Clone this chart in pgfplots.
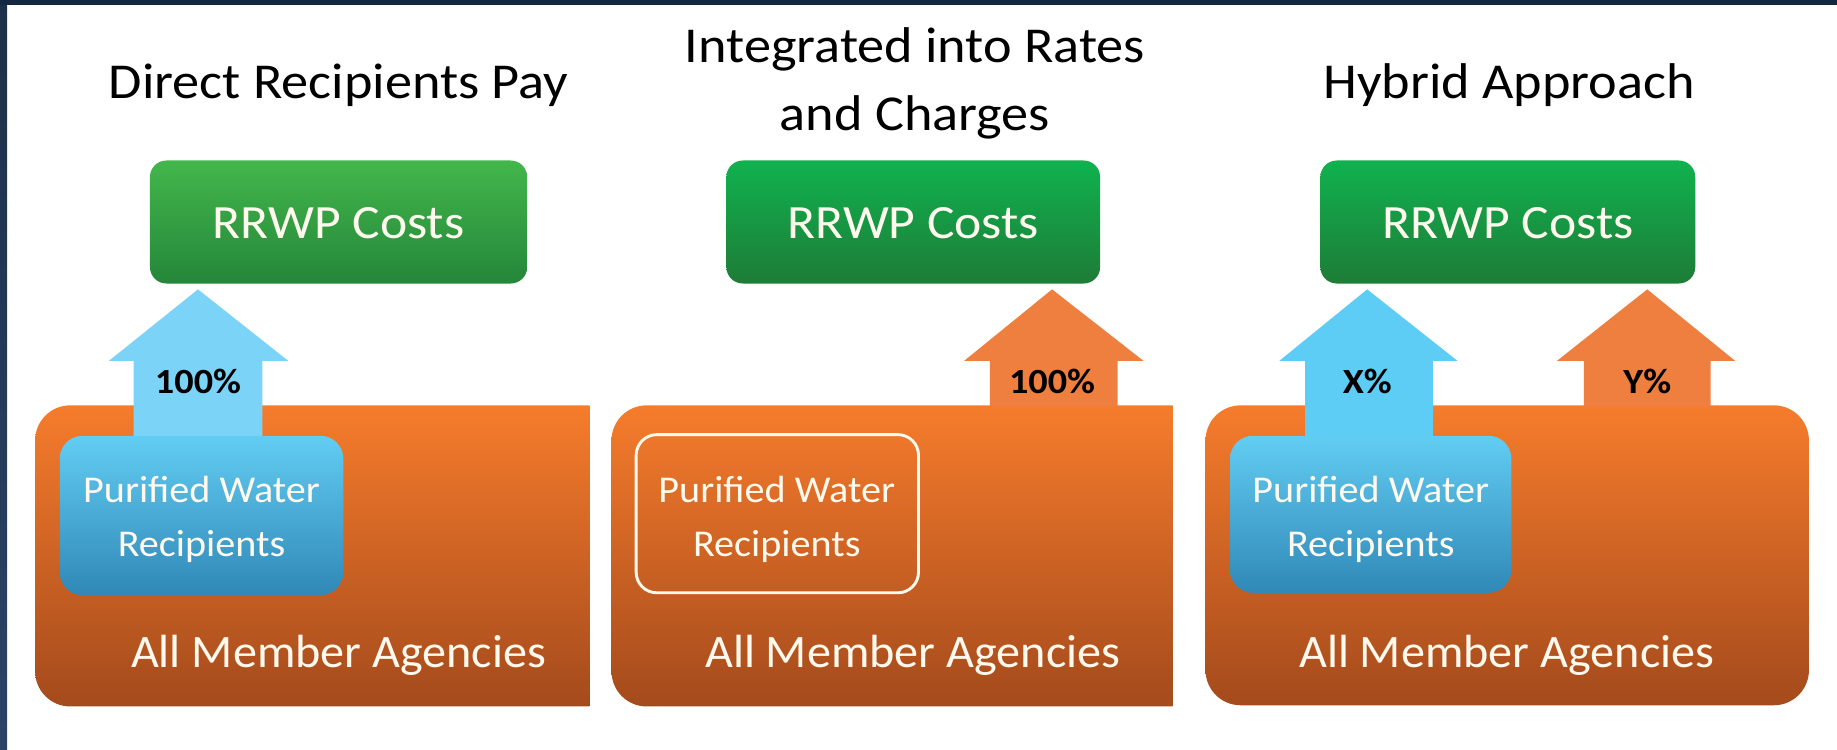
\documentclass[border=0pt]{standalone}
\usepackage{fontspec}
\setmainfont{Carlito}
\usepackage{graphicx}
\usepackage{pgfplots}
\pgfplotsset{compat=1.18}
\definecolor{frameBar}{HTML}{142741}
\definecolor{frameT}{HTML}{1C2F4A}
\definecolor{frameM}{HTML}{4A6284}
\definecolor{frameB}{HTML}{2B4466}
\definecolor{orT}{HTML}{F67C2C}
\definecolor{orB}{HTML}{A44A1C}
\definecolor{gTa}{HTML}{43B74B}
\definecolor{gBa}{HTML}{24863A}
\definecolor{gT}{HTML}{10B24F}
\definecolor{gB}{HTML}{1E7C37}
\definecolor{arrBlueA}{HTML}{7CD3F8}
\definecolor{arrBlueC}{HTML}{5DCDF5}
\definecolor{boxBT}{HTML}{62CDF3}
\definecolor{boxBB}{HTML}{3088B6}
\definecolor{arrOr}{HTML}{EF7F3E}
\definecolor{cream}{HTML}{FFF9EE}
\newcommand{\sx}[1]{\scalebox{1.08}[1]{#1}}
\newcommand{\sxa}[1]{\scalebox{1.035}[1]{#1}}
\newcommand{\sxp}[1]{\scalebox{1.06}[1]{#1}}
\newcommand{\ftitle}{\fontsize{12.2}{14}\selectfont}
\newcommand{\fcost}{\fontsize{11.6}{14}\selectfont}
\newcommand{\fall}{\fontsize{11.3}{14}\selectfont}
\newcommand{\fpw}{\fontsize{9.2}{11}\selectfont}
\newcommand{\fpct}{\fontsize{8.6}{10}\selectfont\bfseries}
\begin{document}
\begin{tikzpicture}
\begin{axis}[width=15.68cm,height=6.4cm,scale only axis,
  xmin=0,xmax=1568,ymin=0,ymax=640,y dir=reverse,
  hide axis,clip=false]
% background and frame
\fill[white] (0,0) rectangle (1568,640);
\shade[top color=frameT,middle color=frameM,bottom color=frameB] (0,0) rectangle (6,640);
\fill[frameBar] (0,0) rectangle (1568,4.5);

% ---------- Panel 1: Direct Recipients Pay ----------
\begin{scope}
\clip (30,340) rectangle (503,610);
\shade[top color=orT,bottom color=orB,rounded corners=8.5pt] (30,346) rectangle (560,603);
\end{scope}
\shade[top color=gTa,bottom color=gBa,rounded corners=4pt] (128,137) rectangle (450,242);
\addplot[fill=arrBlueA,draw=none,no markers] coordinates
  {(114,380) (114,308) (93,308) (169,247) (246,308) (224,308) (224,380)} --cycle;
\shade[top color=boxBT,bottom color=boxBB,rounded corners=5.5pt] (51,372) rectangle (293,508);
\node[anchor=base] at (289,84) {\ftitle\sx{Direct Recipients Pay}};
\node[anchor=base,text=cream] at (289,204) {\fcost\sx{RRWP Costs}};
\node[anchor=base] at (169,336) {\fpct\sx{100\%}};
\node[anchor=base,text=cream] at (172,429) {\fpw\sxp{Purified Water}};
\node[anchor=base,text=cream] at (172,475) {\fpw\sxp{Recipients}};
\node[anchor=base,text=cream] at (289,570) {\fall\sxa{All Member Agencies}};

% ---------- Panel 2: Integrated into Rates and Charges ----------
\begin{scope}
\clip (522,340) rectangle (1001,610);
\shade[top color=orT,bottom color=orB,rounded corners=8.5pt] (522,346) rectangle (1060,603);
\end{scope}
\shade[top color=gT,bottom color=gB,rounded corners=4pt] (620,137) rectangle (939,242);
\addplot[fill=arrOr,draw=none,no markers] coordinates
  {(845,347) (845,308) (823,308) (898,247) (976,308) (954,308) (954,347)} --cycle;
\draw[cream,line width=0.7pt,rounded corners=5pt] (543,371) rectangle (784,506);
\node[anchor=base] at (781,53) {\ftitle\sx{Integrated into Rates}};
\node[anchor=base] at (781,111) {\ftitle\sx{and Charges}};
\node[anchor=base,text=cream] at (779.5,204) {\fcost\sx{RRWP Costs}};
\node[anchor=base] at (898,336) {\fpct\sx{100\%}};
\node[anchor=base,text=cream] at (663,429) {\fpw\sxp{Purified Water}};
\node[anchor=base,text=cream] at (663,475) {\fpw\sxp{Recipients}};
\node[anchor=base,text=cream] at (779,570) {\fall\sxa{All Member Agencies}};

% ---------- Panel 3: Hybrid Approach ----------
\shade[top color=orT,bottom color=orB,rounded corners=8.5pt] (1029,346) rectangle (1544,602);
\shade[top color=gT,bottom color=gB,rounded corners=4pt] (1127,137) rectangle (1447,242);
\addplot[fill=arrBlueC,draw=none,no markers] coordinates
  {(1114,380) (1114,308) (1092,308) (1167,247) (1244,308) (1223,308) (1223,380)} --cycle;
\addplot[fill=arrOr,draw=none,no markers] coordinates
  {(1352,347) (1352,308) (1329,308) (1406,247) (1481,308) (1460,308) (1460,347)} --cycle;
\shade[top color=boxBT,bottom color=boxBB,rounded corners=5.5pt] (1050,372) rectangle (1290,506);
\node[anchor=base] at (1288,84) {\ftitle\sx{Hybrid Approach}};
\node[anchor=base,text=cream] at (1287,204) {\fcost\sx{RRWP Costs}};
\node[anchor=base] at (1167,336) {\fpct\sx{X\%}};
\node[anchor=base] at (1406,336) {\fpct\sx{Y\%}};
\node[anchor=base,text=cream] at (1170,429) {\fpw\sxp{Purified Water}};
\node[anchor=base,text=cream] at (1170,475) {\fpw\sxp{Recipients}};
\node[anchor=base,text=cream] at (1286,570) {\fall\sxa{All Member Agencies}};
\end{axis}
\end{tikzpicture}
\end{document}
